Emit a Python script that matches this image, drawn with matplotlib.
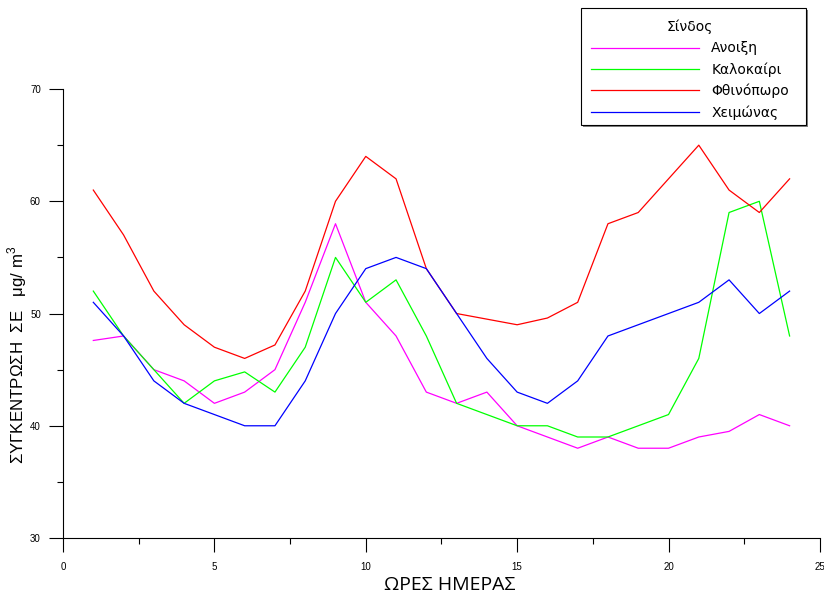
import matplotlib
matplotlib.use("Agg")
import matplotlib.pyplot as plt
from matplotlib.patches import Rectangle
from matplotlib.ticker import MultipleLocator

hours = list(range(1, 25))

spring = [47.6, 48, 45, 44, 42, 43, 45, 51, 58, 51, 48, 43,
          42, 43, 40, 39, 38, 39, 38, 38, 39, 39.5, 41, 40]
summer = [52, 48, 45, 42, 44, 44.8, 43, 47, 55, 51, 53, 48,
          42, 41, 40, 40, 39, 39, 40, 41, 46, 59, 60, 48]
autumn = [61, 57, 52, 49, 47, 46, 47.2, 52, 60, 64, 62, 54,
          50, 49.5, 49, 49.6, 51, 58, 59, 62, 65, 61, 59, 62]
winter = [51, 48, 44, 42, 41, 40, 40, 44, 50, 54, 55, 54,
          50, 46, 43, 42, 44, 48, 49, 50, 51, 53, 50, 52]

series_names = ["Ανοιξη", "Καλοκαίρι", "Φθινόπωρο", "Χειμώνας"]
series_colors = ["#ff00ff", "#00ff00", "#ff0000", "#0000ff"]
legend_title = "Σίνδος"
x_label = "ΩΡΕΣ ΗΜΕΡΑΣ"
y_label = "ΣΥΓΚΕΝΤΡΩΣΗ  ΣΕ   μg/ m$^3$"

plt.rcParams["font.family"] = ["Liberation Sans", "DejaVu Sans"]
plt.rcParams["mathtext.fontset"] = "custom"
plt.rcParams["mathtext.rm"] = "Liberation Sans"

W, H = 824, 598
fig = plt.figure(figsize=(W / 100, H / 100), dpi=100)
ax = fig.add_axes([0.0765, 0.1003, 0.9185, 0.7508])

for vals, name, col in zip([spring, summer, autumn, winter], series_names, series_colors):
    ax.plot(hours, vals, color=col, lw=0.9, label=name)

ax.set_xlim(0, 25)
ax.set_ylim(30, 70)
ax.xaxis.set_major_locator(MultipleLocator(5))
ax.xaxis.set_minor_locator(MultipleLocator(2.5))
ax.yaxis.set_major_locator(MultipleLocator(10))
ax.yaxis.set_minor_locator(MultipleLocator(5))
ax.tick_params(which="major", direction="out", length=10, width=0.8, labelsize=7)
ax.tick_params(which="minor", direction="out", length=4.5, width=0.8)
ax.tick_params(axis="y", which="major", pad=6)
ax.tick_params(axis="x", which="major", pad=7)

for s in ("top", "right"):
    ax.spines[s].set_visible(False)
for s in ("left", "bottom"):
    ax.spines[s].set_linewidth(0.8)

# axis titles placed in figure pixels
fig.text(450 / W, 1 - 585 / H, x_label, fontsize=14, family=["Open Sans", "DejaVu Sans"],
         ha="center", va="center")
fig.text(17 / W, 1 - 355 / H, y_label, fontsize=12.2, rotation=90,
         ha="center", va="center")

# legend box with a drop shadow, drawn behind a frameless legend
box_x0, box_y0, box_w, box_h = 581, 8, 225, 117
fig.add_artist(Rectangle(((box_x0 + 2) / W, 1 - (box_y0 + box_h + 2) / H), box_w / W, box_h / H,
                         transform=fig.transFigure, facecolor="#808080", edgecolor="none",
                         zorder=4))
fig.add_artist(Rectangle((box_x0 / W, 1 - (box_y0 + box_h) / H), box_w / W, box_h / H,
                         transform=fig.transFigure, facecolor="white", edgecolor="black",
                         linewidth=0.8, zorder=5))

leg = fig.legend(loc="upper left", bbox_to_anchor=(591 / W, 1 - 20 / H), title=legend_title,
                 prop={"family": "DejaVu Sans", "size": 10},
                 title_fontproperties={"family": "DejaVu Sans", "size": 10},
                 frameon=False, handlelength=7.8, handletextpad=0.85,
                 borderpad=0, labelspacing=0.5, borderaxespad=0)
leg.set_zorder(6)

fig.savefig("out.png", dpi=100)
